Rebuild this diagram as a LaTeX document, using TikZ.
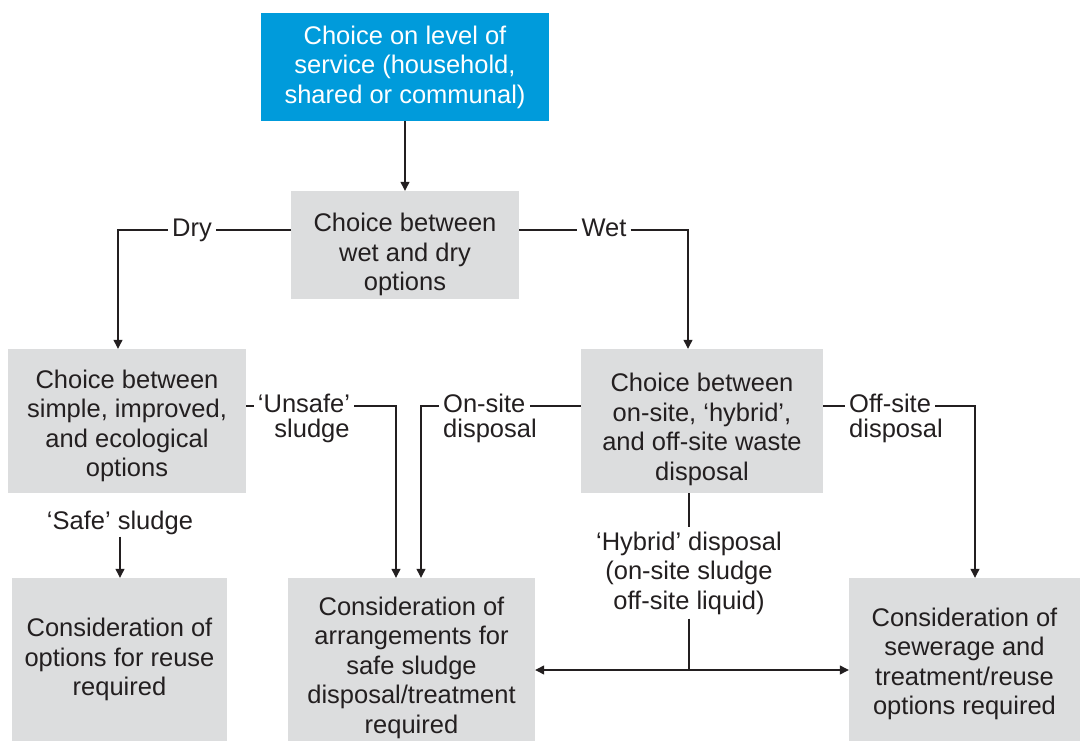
\documentclass[tikz,border=0pt]{standalone}
\usepackage{fontspec}
\setmainfont{Liberation Sans}
\usepackage{tikz}
\usetikzlibrary{arrows.meta,positioning,calc}
\definecolor{levelblue}{HTML}{009BDB}
\definecolor{boxgrey}{HTML}{DCDDDE}
\definecolor{inkgrey}{HTML}{231F20}
% pushes the text of a box down (strut on the first line)
\newcommand{\topgap}[1]{\rule{0pt}{#1}}

\begin{document}
\begin{tikzpicture}[
  x=1pt,y=-1pt,
  every node/.style={font=\fontsize{25.5}{29.5}\selectfont,align=center,text=inkgrey},
  choice/.style={fill=boxgrey,inner sep=0pt},
  tag/.style={inner xsep=4pt,inner ysep=2pt,text height=18pt,text depth=5pt},
  arr/.style={-{Triangle[length=9pt,width=9pt]},line width=1.2pt,color=inkgrey},
  ln/.style={line width=1.2pt,color=inkgrey}
]
\useasboundingbox (0,0) rectangle (1088,741);
% boxes
\node[choice,fill=levelblue,text=white,minimum width=288pt,minimum height=108pt] (level) at (405,67)
  {Choice on level of\\service (household,\\shared or communal)};
\node[choice,minimum width=228pt,minimum height=108pt] (wetdry) at (405,245)
  {\topgap{38pt}Choice between\\wet and dry\\options};
\node[choice,minimum width=238pt,minimum height=144pt] (simple) at (127,421)
  {\topgap{28.5pt}Choice between\\simple, improved,\\and ecological\\options};
\node[choice,minimum width=242pt,minimum height=144pt] (onoff) at (702,421)
  {\topgap{35pt}Choice between\\on-site, ‘hybrid’,\\and off-site waste\\disposal};
\node[choice,minimum width=215pt,minimum height=163pt] (reuse) at (119.5,659.5)
  {Consideration of\\options for reuse\\required};
\node[choice,minimum width=247pt,minimum height=163pt] (arrange) at (411.5,659.5)
  {\topgap{35pt}Consideration of\\arrangements for\\safe sludge\\disposal/treatment\\required};
\node[choice,minimum width=231pt,minimum height=163pt] (sewer) at (964.5,659.5)
  {\topgap{27.5pt}Consideration of\\sewerage and\\treatment/reuse\\options required};
% labels on the lines
\node[tag] (dry) at (192,230) {Dry};
\node[tag] (wet) at (604,230) {Wet};
\node[tag] (unsafe) at (304,406) {‘Unsafe’};
\node[tag] (unsafe2) at (312,431) {sludge};
\node[tag,anchor=west] (onsite) at (439,406) {On-site};
\node[tag,anchor=west] (onsite2) at (439,431) {disposal};
\node[tag,anchor=west] (offsite) at (845,406) {Off-site};
\node[tag,anchor=west] (offsite2) at (845,431) {disposal};
\node[tag] (safe) at (120,523) {‘Safe’ sludge};
\node[inner sep=4pt] (hybrid) at (689,573)
  {‘Hybrid’ disposal\\(on-site sludge\\off-site liquid)};
\coordinate (fork) at (689,670);
% connectors
\draw[arr] (level.south) -- (level.south |- wetdry.north);
\draw[ln] (wetdry.west |- dry) -- (dry.east);
\draw[arr] (dry.west) -| ([xshift=-9pt]simple.north);
\draw[ln] (wetdry.east |- wet) -- (wet.west);
\draw[arr] (wet.east) -| ([xshift=-14pt]onoff.north);
\draw[ln] (simple.east |- unsafe) -- (unsafe.west);
\draw[arr] (unsafe.east) -| ([xshift=-15.5pt]arrange.north);
\draw[ln] (onoff.west |- onsite) -- (onsite.east);
\draw[arr] (onsite.west) -| ([xshift=9.5pt]arrange.north);
\draw[ln] (onoff.east |- offsite) -- (offsite.west);
\draw[arr] (offsite.east) -| ([xshift=10.5pt]sewer.north);
\draw[arr] (safe.south) -- (safe.south |- reuse.north);
\draw[ln] (hybrid.north |- onoff.south) -- (hybrid.north);
\draw[ln] (hybrid.south) -- (fork);
\draw[arr] (fork) -- (fork -| arrange.east);
\draw[arr] (fork) -- (fork -| sewer.west);
\end{tikzpicture}
\end{document}
